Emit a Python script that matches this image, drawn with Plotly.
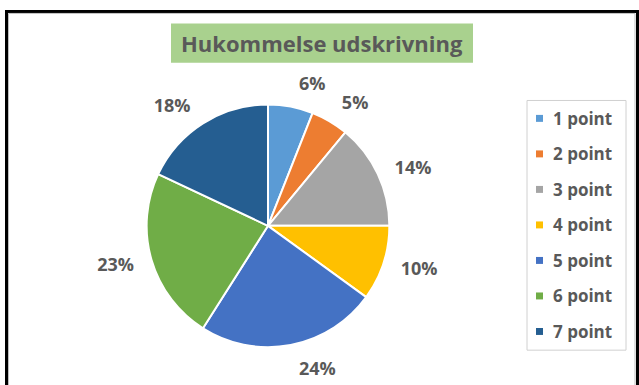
import plotly.graph_objects as go

# Data
categories = ["1 point", "2 point", "3 point", "4 point", "5 point", "6 point", "7 point"]
shares = [6, 5, 14, 10, 24, 23, 18]
colors = ["#5B9BD5", "#ED7D31", "#A5A5A5", "#FFC000", "#4472C4", "#70AD47", "#255E91"]
title_text = "Hukommelse udskrivning"

W, H = 639, 385
FONT = "Open Sans"
TXT = "#595959"


def px(x):
    return x / W


def py(y):
    return 1 - y / H


CX, CY, R = 268, 227, 122   # pie centre and radius (pixels)
RL = 134                    # radius of the ring the data labels sit around

fig = go.Figure()

# transparent rings carrying the percentage labels a little away from the pie;
# the first slice gets its own ring so its label is never pushed by its neighbour
label_sets = [
    ["%{value}%"] + [""] * (len(shares) - 1),
    [""] + ["%{value}%"] * (len(shares) - 1),
]
for templ in label_sets:
    fig.add_trace(go.Pie(
        labels=categories,
        values=shares,
        marker=dict(colors=["rgba(0,0,0,0)"] * len(shares), line=dict(width=0)),
        sort=False,
        direction="clockwise",
        rotation=0,
        texttemplate=templ,
        textposition="outside",
        textfont=dict(family=FONT, size=18, color=TXT, weight="bold"),
        hoverinfo="skip",
        domain=dict(x=[px(CX - RL), px(CX + RL)], y=[py(CY + RL), py(CY - RL)]),
        showlegend=False,
    ))

# the pie itself
fig.add_trace(go.Pie(
    labels=categories,
    values=shares,
    marker=dict(colors=colors, line=dict(color="white", width=2)),
    sort=False,
    direction="clockwise",
    rotation=0,
    textinfo="none",
    hoverinfo="label+percent",
    domain=dict(x=[px(CX - R), px(CX + R)], y=[py(CY + R), py(CY - R)]),
    showlegend=False,
))

shapes = [
    # outer frame
    dict(type="rect", xref="paper", yref="paper",
         x0=px(6.5), x1=px(637.5), y0=py(420), y1=py(11.5),
         line=dict(color="black", width=3), layer="below"),
    dict(type="rect", xref="paper", yref="paper",
         x0=px(8.5), x1=px(635), y0=py(420), y1=py(13.5),
         line=dict(color="#BFBFBF", width=1), layer="below"),
    # title box
    dict(type="rect", xref="paper", yref="paper",
         x0=px(171), x1=px(473), y0=py(63), y1=py(23.5),
         fillcolor="#A9D18E", line=dict(width=0), layer="below"),
    # legend box
    dict(type="rect", xref="paper", yref="paper",
         x0=px(527), x1=px(626), y0=py(352), y1=py(101),
         fillcolor="white", line=dict(color="#D0D0D0", width=1), layer="below"),
]

annotations = [
    dict(text=title_text, x=px(322), y=py(43.5), xref="paper", yref="paper",
         xanchor="center", yanchor="middle", showarrow=False,
         font=dict(family=FONT, size=22, color=TXT, weight="bold")),
]

# legend entries
for i, (name, col) in enumerate(zip(categories, colors)):
    yc = 119 + i * 35.7
    shapes.append(dict(type="rect", xref="paper", yref="paper",
                       x0=px(536), x1=px(543), y0=py(yc + 3.5), y1=py(yc - 3.5),
                       fillcolor=col, line=dict(width=0)))
    annotations.append(dict(text=name, x=px(551), y=py(yc), xref="paper", yref="paper",
                            xanchor="left", yanchor="middle", showarrow=False,
                            font=dict(family=FONT, size=17, color=TXT, weight="bold")))

fig.update_layout(
    width=W, height=H,
    margin=dict(l=0, r=0, t=0, b=0),
    paper_bgcolor="white",
    plot_bgcolor="white",
    shapes=shapes,
    annotations=annotations,
)

fig.write_html("out.html")
